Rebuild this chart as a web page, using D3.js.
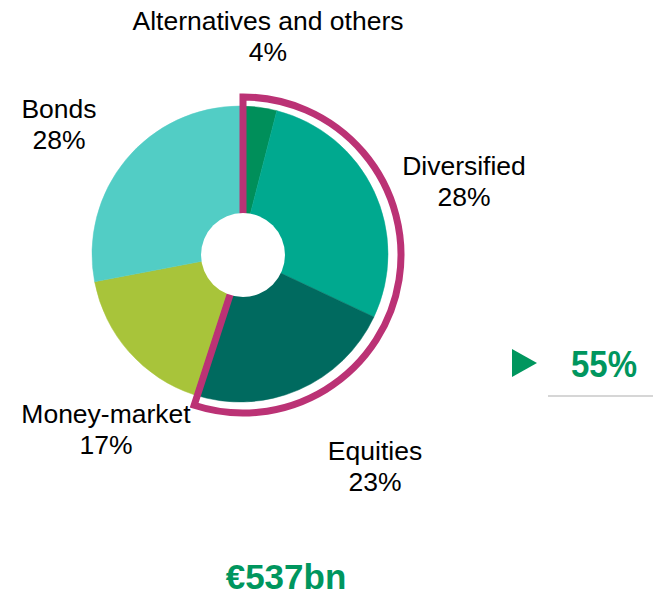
<!DOCTYPE html>
<html>
<head>
<meta charset="utf-8">
<script src="https://cdn.jsdelivr.net/npm/d3@7"></script>
<style>
  html, body { margin: 0; padding: 0; background: #fff; }
  svg { display: block; }
  text { font-family: "Liberation Sans", Arial, sans-serif; }
</style>
</head>
<body>
<svg id="chart" width="653" height="598"></svg>
<script>
// Asset allocation by category (share of total, %)
const categories = ["Alternatives and others", "Diversified", "Equities", "Money-market", "Bonds"];
const shares = [4, 28, 23, 17, 28];
const sliceColors = ["#008f5a", "#00a98f", "#006a5f", "#a8c43a", "#52cdc5"];
// Categories grouped by the highlight outline
const highlighted = ["Alternatives and others", "Diversified", "Equities"];
const highlightLabel = "55%";
const totalLabel = "€537bn";

const svg = d3.select("#chart");

const pieCenter = { x: 240, y: 254 };
const outlineCenter = { x: 243, y: 255 };
const outerR = 148;
const holeR = 42;
const outlineR = 158;

const color = d3.scaleOrdinal().domain(categories).range(sliceColors);

const pie = d3.pie().sort(null).value(d => d.value);
const data = categories.map((c, i) => ({ name: c, value: shares[i] }));
const arcs = pie(data);

const arc = d3.arc().innerRadius(0).outerRadius(outerR);

const gPie = svg.append("g").attr("transform", `translate(${pieCenter.x},${pieCenter.y})`);
gPie.selectAll("path.slice")
  .data(arcs)
  .join("path")
  .attr("class", "slice")
  .attr("d", arc)
  .attr("fill", d => color(d.data.name))
  .attr("stroke", d => color(d.data.name))
  .attr("stroke-width", 0.5);

// Outline around the highlighted group of slices
const hiArcs = arcs.filter(a => highlighted.includes(a.data.name));
const hiStart = d3.min(hiArcs, a => a.startAngle);
const hiEnd = d3.max(hiArcs, a => a.endAngle);
const outlineArc = d3.arc().innerRadius(0).outerRadius(outlineR);

svg.append("path")
  .attr("transform", `translate(${outlineCenter.x},${outlineCenter.y})`)
  .attr("d", outlineArc({ startAngle: hiStart, endAngle: hiEnd }))
  .attr("fill", "none")
  .attr("stroke", "#bb3275")
  .attr("stroke-width", 7)
  .attr("stroke-linejoin", "miter");

// Doughnut hole
svg.append("circle")
  .attr("cx", outlineCenter.x)
  .attr("cy", outlineCenter.y)
  .attr("r", holeR)
  .attr("fill", "#fff");

// Category labels: name on the first line, share on the second
const labelAnchor = {
  "Alternatives and others": [268, 30],
  "Diversified": [464, 175],
  "Equities": [375, 460],
  "Money-market": [106, 423],
  "Bonds": [59, 118]
};
const labels = svg.append("g");
arcs.forEach(a => {
  const [x, y] = labelAnchor[a.data.name];
  const t = labels.append("text")
    .attr("x", x).attr("y", y)
    .attr("text-anchor", "middle")
    .attr("font-size", 26.5)
    .attr("fill", "#000");
  t.append("tspan").attr("x", x).attr("y", y).text(a.data.name);
  t.append("tspan").attr("x", x).attr("y", y + 31).text(d3.format(".0f")(a.data.value) + "%");
});

// Highlight callout on the right
const green = "#00965e";
svg.append("path")
  .attr("d", d3.line()([[512, 349], [512, 377], [537, 363]]) + "Z")
  .attr("fill", green);
svg.append("text")
  .attr("x", 604).attr("y", 377)
  .attr("text-anchor", "middle")
  .attr("font-size", 37)
  .attr("font-weight", "bold")
  .attr("textLength", 66)
  .attr("lengthAdjust", "spacingAndGlyphs")
  .attr("fill", green)
  .text(highlightLabel);
svg.append("line")
  .attr("x1", 548).attr("x2", 653)
  .attr("y1", 396).attr("y2", 396)
  .attr("stroke", "#d6d6d6")
  .attr("stroke-width", 2);

// Total assets
svg.append("text")
  .attr("x", 286).attr("y", 589)
  .attr("text-anchor", "middle")
  .attr("font-size", 35)
  .attr("font-weight", "bold")
  .attr("fill", green)
  .text(totalLabel);
</script>
</body>
</html>
